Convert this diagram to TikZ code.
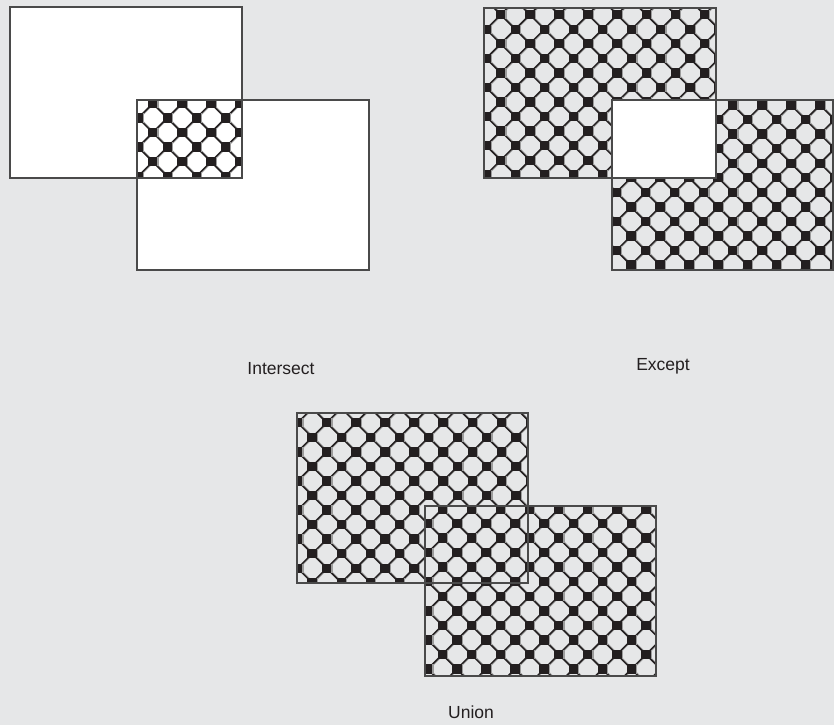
\documentclass[tikz,border=0pt]{standalone}
\usepackage{fontspec}
\setmainfont{Liberation Sans}
\definecolor{bgc}{HTML}{E6E7E8}
\definecolor{edgec}{HTML}{4A4A4A}
\definecolor{inkc}{HTML}{231F20}
\definecolor{shadc}{HTML}{9C9C9C}
\newcommand\octfill[7]{%
\begin{scope}
\clip (#3,#4) rectangle (#5,#6);
\fill[#7] (#3,#4) rectangle (#5,#6);
\pgfmathtruncatemacro\oImin{floor((#3-#1)/14.55)-1}%
\pgfmathtruncatemacro\oImax{ceil((#5-#1)/14.55)+1}%
\pgfmathtruncatemacro\oJmin{floor((#4-#2)/14.55)-1}%
\pgfmathtruncatemacro\oJmax{ceil((#6-#2)/14.55)+1}%
\pgfmathtruncatemacro\oMmin{\oImin-\oJmax}%
\pgfmathtruncatemacro\oMmax{\oImax-\oJmin}%
\pgfmathtruncatemacro\oNmin{\oImin+\oJmin}%
\pgfmathtruncatemacro\oNmax{\oImax+\oJmax}%
\foreach \m in {\oMmin,...,\oMmax}{%
  \ifodd\m\else
  \draw[shadc,line width=1.1] ({#1+14.55*\m-400+1.4},{#2-400}) -- ({#1+14.55*\m+400+1.4},{#2+400});
  \draw[inkc,line width=1.5] ({#1+14.55*\m-400},{#2-400}) -- ({#1+14.55*\m+400},{#2+400});
  \fi}
\foreach \n in {\oNmin,...,\oNmax}{%
  \ifodd\n\else
  \draw[shadc,line width=1.1] ({#1+14.55*\n-400+1.4},{#2+400}) -- ({#1+14.55*\n+400+1.4},{#2-400});
  \draw[inkc,line width=1.5] ({#1+14.55*\n-400},{#2+400}) -- ({#1+14.55*\n+400},{#2-400});
  \fi}
\foreach \i in {\oImin,...,\oImax}{%
  \foreach \j in {\oJmin,...,\oJmax}{%
    \pgfmathtruncatemacro\oS{\i+\j}%
    \ifodd\oS\else
    \fill[shadc] ({#1+14.55*\i-4.7+1.2},{#2+14.55*\j-4.7}) rectangle +(9.4,9.4);
    \fill[inkc] ({#1+14.55*\i-4.7},{#2+14.55*\j-4.7}) rectangle +(9.4,9.4);
    \fi}}
\end{scope}}
\begin{document}
\begin{tikzpicture}[x=1pt,y=-1pt,
  outline/.style={draw=edgec,line width=1.1},
  caption/.style={font=\fontsize{17.5}{20}\selectfont,text=inkc,inner sep=0pt}]
\useasboundingbox (0,0) rectangle (834,725);
\fill[bgc] (0,0) rectangle (834,725);
% ---------- Intersect ----------
\fill[white] (10,7) rectangle (242,178);
\fill[white] (137,100) rectangle (369,270);
\octfill{152.7}{103.5}{137}{100}{242}{178}{white}
\draw[outline] (10,7) rectangle (242,178);
\draw[outline] (137,100) rectangle (369,270);
\node[caption] (intersect) at (281,369) {Intersect};
% ---------- Except ----------
\octfill{500.7}{14.7}{484}{8}{716}{178}{bgc}
\octfill{732.7}{105}{612}{100}{833}{270}{bgc}
\fill[white] (612,100) rectangle (716,178);
\draw[outline] (484,8) rectangle (716,178);
\draw[outline] (612,100) rectangle (833,270);
\node[caption] (except) at (663,366) {Except};
% ---------- Union ----------
\octfill{326.7}{422.7}{297}{413}{528}{583}{bgc}
\octfill{515}{581.7}{425}{506}{656}{676}{bgc}
\draw[outline] (297,413) rectangle (528,583);
\draw[outline] (425,506) rectangle (656,676);
\node[caption] (union) at (471,712) {Union};
\end{tikzpicture}
\end{document}
